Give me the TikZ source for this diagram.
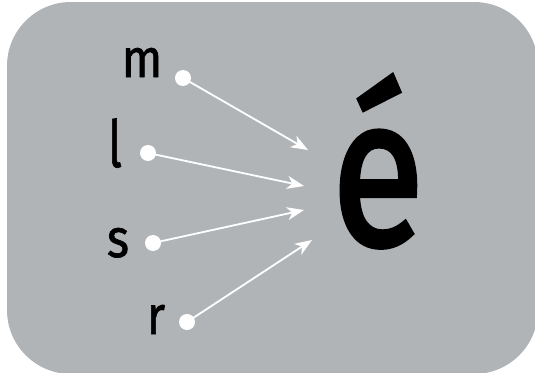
\documentclass[tikz,border=0pt]{standalone}
\usepackage{fontspec}
\setmainfont{Fira Sans}
\newfontfamily\medfont{Fira Sans}[UprightFeatures={FakeBold=1.2}]
\newfontfamily\semifont{Fira Sans}[UprightFeatures={FakeBold=2.2}]
\usetikzlibrary{arrows.meta}
\definecolor{panel}{RGB}{177,180,183}
\tikzset{
  letter/.style={inner sep=0pt, anchor=base, xscale=0.88, font=\fontsize{54}{54}\medfont},
  dot/.style={circle, fill=white, inner sep=0pt, minimum size=16pt},
  link/.style={draw=white, line width=1.8pt, -{Stealth[length=17pt,width=13pt,inset=5pt]}}
}
\begin{document}
\begin{tikzpicture}[x=1pt,y=-1pt]
\useasboundingbox (0,0) rectangle (535,372);
\clip (0,0) rectangle (535,372);
\fill[panel, rounded corners=64pt] (7,2) rectangle (538,374);
\node[letter] (m) at (142,77) {m};
\node[letter, yscale=1.2] (l) at (115,167) {l};
\node[letter] (s) at (118,257) {s};
\node[letter] (r) at (156,334) {r};
\node[dot] (dm) at (183,78) {};
\node[dot] (dl) at (148,153) {};
\node[dot] (ds) at (153,243) {};
\node[dot] (dr) at (187,322) {};
\coordinate (tm) at (308,150);
\coordinate (tl) at (304,186);
\coordinate (ts) at (304,210);
\coordinate (tr) at (312,240);
\node[inner sep=0pt, anchor=base, xscale=0.8, font=\fontsize{212}{212}\semifont] (e) at (378,245) {é};
\draw[link] (dm.center) -- (tm);
\draw[link] (dl.center) -- (tl);
\draw[link] (ds.center) -- (ts);
\draw[link] (dr.center) -- (tr);
\end{tikzpicture}
\end{document}
